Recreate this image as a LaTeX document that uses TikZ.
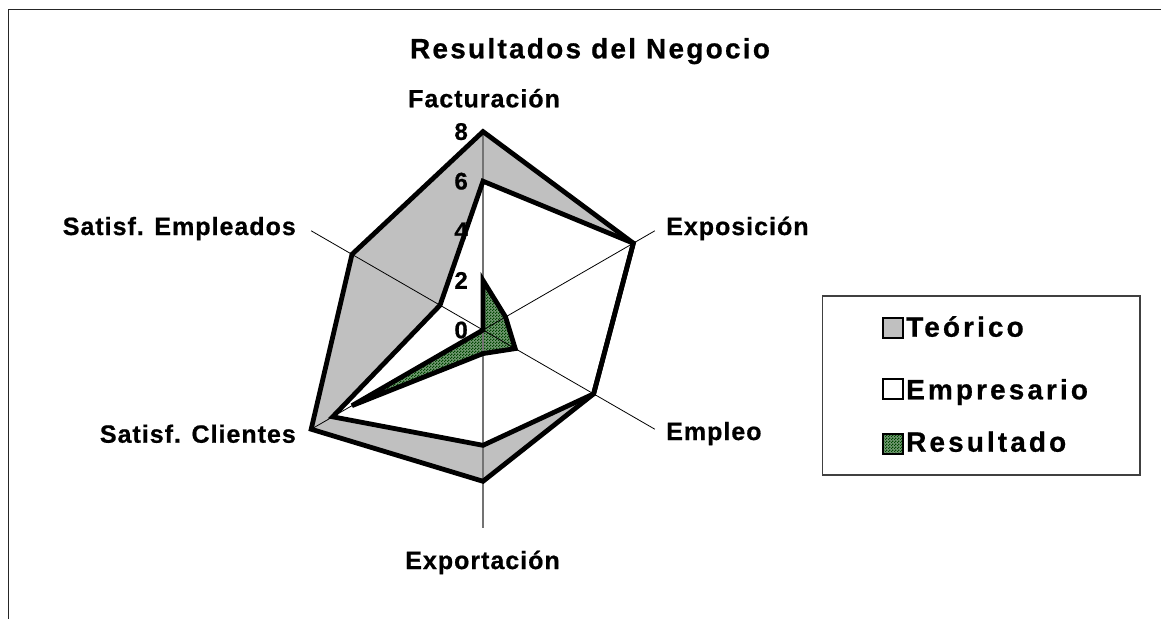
\documentclass[tikz,border=0pt]{standalone}
\usepackage{fontspec}
\setmainfont{Liberation Sans}
\newfontfamily\lblfont{Liberation Sans}[LetterSpace=4, BoldFeatures={FakeBold=0.7}]
\newfontfamily\ttlfont{Liberation Sans}[LetterSpace=8, BoldFeatures={FakeBold=0.7}]
\newfontfamily\legfont{Liberation Sans}[LetterSpace=11, BoldFeatures={FakeBold=0.7}]
\usetikzlibrary{patterns,calc}
\definecolor{teogray}{RGB}{192,192,192}
\definecolor{resgreen}{RGB}{0,70,0}
\pgfdeclarepatternformonly{finecheck}{\pgfpointorigin}{\pgfqpoint{3pt}{3pt}}{\pgfqpoint{3pt}{3pt}}{%
  \pgfpathrectangle{\pgfpointorigin}{\pgfqpoint{1.5pt}{1.5pt}}%
  \pgfpathrectangle{\pgfqpoint{1.5pt}{1.5pt}}{\pgfqpoint{1.5pt}{1.5pt}}%
  \pgfusepath{fill}}
\begin{document}
\begin{tikzpicture}[x=1pt,y=1pt,
  series/.style={line width=4.8pt, line join=miter, miter limit=4},
  axisline/.style={line width=0.8pt, black},
  vaxis/.style={line width=1.3pt, black!55},
  lbl/.style={font=\lblfont\bfseries\fontsize{25}{30}\selectfont, inner sep=0pt},
  tick/.style={font=\lblfont\bfseries\fontsize{24}{28}\selectfont, inner sep=0pt, anchor=east},
  leg/.style={font=\legfont\bfseries\fontsize{28}{33}\selectfont, inner sep=0pt, anchor=base west},
  swatch/.style={draw=black, line width=2.8pt, minimum size=20pt, inner sep=0pt},
  respat/.style={preaction={fill=resgreen!55!white}, pattern=finecheck, pattern color=resgreen}
]
\useasboundingbox (0,0) rectangle (1161,-619);
\draw[line width=1.8pt, black!85] (1161,-9.5) -- (8.5,-9.5) -- (8.5,-619);

\coordinate (C) at (483,-330);
\def\u{24.8}
\foreach [count=\i] \v in {8,8,8,8,8,8} { \coordinate (X\i) at ($(C)+({150-60*\i}:{\v*\u})$); }
\foreach [count=\i] \v in {8,7,5.15,6.1,8,6.1} { \coordinate (T\i) at ($(C)+({150-60*\i}:{\v*\u})$); }
\foreach [count=\i] \v in {6,7,5.15,4.65,7,2} { \coordinate (P\i) at ($(C)+({150-60*\i}:{\v*\u})$); }
\foreach [count=\i] \v in {2,1.05,1.5,0.95,6.1,0} { \coordinate (R\i) at ($(C)+({150-60*\i}:{\v*\u})$); }

% fills
\fill[teogray] (T1)--(T2)--(T3)--(T4)--(T5)--(T6)--cycle;
\fill[white] (P1)--(P2)--(P3)--(P4)--(P5)--(P6)--cycle;
\path[respat] (R1)--(R2)--(R3)--(R4)--(R5)--(R6)--cycle;

% axes
\foreach \i in {2,3,5,6} { \draw[axisline] (C) -- (X\i); }
\draw[vaxis] (X1) -- (X4);

% outlines
\draw[series] (T1)--(T2)--(T3)--(T4)--(T5)--(T6)--cycle;
\draw[series] (P1)--(P2)--(P3)--(P4)--(P5)--(P6)--cycle;
\draw[series] (R1)--(R2)--(R3)--(R4)--(R5)--(R6)--cycle;

% tick labels
\foreach \v in {0,2,4,6,8} { \node[tick] (tk\v) at (468,{-330+\v*\u}) {\v}; }

% title and axis labels
\node[font=\ttlfont\bfseries\fontsize{28}{33}\selectfont, inner sep=0pt, anchor=base] (title) at (590,-58.3) {Resultados del Negocio};
\node[lbl, anchor=base] (lfac) at (484,-107.3) {Facturación};
\node[lbl, anchor=base west] (lexp) at (666,-235) {Exposición};
\node[lbl, anchor=base west] (lemp) at (666,-440) {Empleo};
\node[lbl, anchor=base] (lexo) at (482.5,-569) {Exportación};
\node[lbl, anchor=base east] (lcli) at (296,-442.7) {Satisf. Clientes};
\node[lbl, anchor=base east] (lsem) at (296,-235) {Satisf. Empleados};

% legend
\node[draw=black!75, line width=1.3pt, minimum width=317.5pt, minimum height=179pt, inner sep=0pt] (legbox) at (981.25,-385.5) {};
\node[swatch, fill=teogray] (s1) at (893,-328) {};
\node[swatch, fill=white] (s2) at (893,-389) {};
\node[swatch, respat] (s3) at (893,-444) {};
\node[leg] (l1) at (906,-336.7) {Teórico};
\node[leg] (l2) at (906,-399.3) {Empresario};
\node[leg] (l3) at (906,-451.7) {Resultado};
\end{tikzpicture}
\end{document}
